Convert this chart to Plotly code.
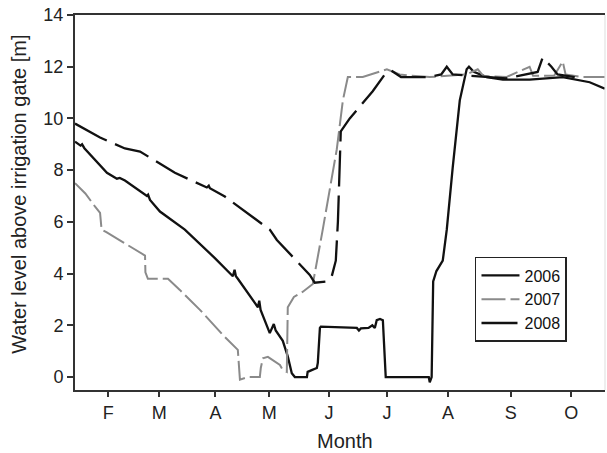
import plotly.graph_objects as go

# x in day-of-year, y water level [m]
day_2006 = [14.6, 17.5, 18.3, 19.5, 31.3, 36.5, 38.0, 40.7, 52.2, 52.8, 53.8, 59.0, 72.0, 87.7,
            97.1, 98.0, 98.7, 99.7, 110.2, 110.9, 111.6, 116.4, 118.5, 119.5, 123.2, 125.8,
            127.9, 129.5, 135.8, 136.2, 138.3, 141.0, 141.5, 142.6, 143.1, 161.9, 163.0, 164.0,
            168.0, 170.0, 171.3, 172.3, 174.0, 175.5, 177.0, 178.1, 199.5, 200.0, 201.0, 201.8,
            203.5, 206.8, 208.9, 212.0, 215.7, 219.3, 220.5, 223.0, 229.8, 238.2, 252.2, 269.5,
            283.6, 291.5]
lvl_2006 = [9.1, 8.95, 9.0, 8.85, 7.9, 7.67, 7.7, 7.6, 7.0, 7.05, 6.85, 6.4, 5.7, 4.6,
            3.9, 4.15, 3.9, 3.8, 2.7, 2.95, 2.6, 1.7, 2.05, 1.8, 1.4, 0.8,
            0.15, 0.0, 0.0, 0.2, 0.27, 0.35, 0.55, 1.9, 1.95, 1.9, 1.8, 1.88,
            1.9, 2.0, 1.9, 2.2, 2.25, 2.2, 0.0, 0.0, 0.0, -0.2, 0.0, 3.7,
            4.1, 4.5, 5.7, 8.1, 10.7, 11.9, 12.0, 11.8, 11.6, 11.5, 11.5, 11.6,
            11.4, 11.15]

day_2007 = [14.6, 20.0, 25.0, 27.7, 28.5, 31.0, 40.0, 50.0, 51.2, 51.4, 52.7, 63.2, 69.4, 79.9,
            87.7, 92.9, 99.7, 100.8, 104.9, 111.2, 111.7, 112.8, 115.4, 121.7, 123.2, 125.3,
            125.8, 129.0, 133.7, 138.9, 144.2, 151.4, 154.6, 157.2, 165.0, 172.0, 177.6, 184.3,
            190.0, 200.0, 210.0, 219.0, 225.1, 228.0, 240.0, 252.2, 254.0, 265.0, 269.5, 271.0,
            280.0, 291.5]
lvl_2007 = [7.5, 7.1, 6.6, 6.35, 5.7, 5.6, 5.2, 4.75, 4.7, 4.05, 3.8, 3.8, 3.37, 2.6,
            1.95, 1.55, 1.05, -0.1, 0.0, 0.0, 0.35, 0.73, 0.78, 0.47, 0.27, 0.2,
            2.7, 3.1, 3.3, 3.6, 5.75, 8.8, 10.7, 11.6, 11.6, 11.75, 11.9, 11.7,
            11.65, 11.6, 11.65, 11.7, 11.9, 11.65, 11.6, 12.0, 11.65, 11.65, 12.2, 11.7,
            11.6, 11.6]

day_2008 = [14.6, 27.7, 40.7, 48.6, 66.8, 83.5, 84.5, 85.1, 92.9, 102.3, 116.4, 120.1, 137.3,
            139.9, 146.3, 148.8, 150.9, 152.0, 153.0, 153.5, 158.2, 165.0, 170.2, 176.5, 180.0,
            185.0, 200.0, 206.0, 208.9, 212.0, 220.0, 240.0, 256.4, 259.0, 263.6, 266.8, 275.8]
lvl_2008 = [9.8, 9.26, 8.84, 8.72, 7.9, 7.33, 7.4, 7.3, 6.98, 6.47, 5.7, 5.3, 3.95,
            3.65, 3.7, 3.9, 4.5, 6.0, 8.0, 9.5, 10.0, 10.6, 11.05, 11.7, 11.85,
            11.6, 11.6, 11.7, 12.0, 11.7, 11.65, 11.55, 11.8, 12.35, 12.0, 11.7, 11.6]

month_ticks = [32, 58.6, 88, 116.1, 147.4, 177.7, 209.6, 242.4, 274]
month_labels = ["F", "M", "A", "M", "J", "J", "A", "S", "O"]
y_ticks = [0, 2, 4, 6, 8, 10, 12, 14]

FONT = "Liberation Sans, Arial, sans-serif"

fig = go.Figure()
fig.add_trace(go.Scatter(x=day_2006, y=lvl_2006, mode="lines", name="2006",
                         line=dict(color="#111111", width=2.3)))
fig.add_trace(go.Scatter(x=day_2007, y=lvl_2007, mode="lines", name="2007",
                         line=dict(color="#8a8a8a", width=2, dash="24px,5px")))
fig.add_trace(go.Scatter(x=day_2008, y=lvl_2008, mode="lines", name="2008",
                         line=dict(color="#111111", width=2.3, dash="36px,9px")))

fig.update_layout(
    width=607, height=453,
    margin=dict(l=75, r=2, t=15, b=63),
    paper_bgcolor="white", plot_bgcolor="white",
    font=dict(family=FONT, color="#222222"),
    showlegend=True,
    legend=dict(x=0.7547, y=0.3547, xanchor="left", yanchor="top",
                bgcolor="white", bordercolor="#222222", borderwidth=1.5,
                font=dict(size=16, family=FONT, color="#111111"),
                itemwidth=38, tracegroupgap=0,
                entrywidth=100, entrywidthmode="pixels"),
    xaxis=dict(range=[14.6, 291.6], tickvals=month_ticks, ticktext=month_labels,
               showgrid=False, zeroline=False, showline=True, linecolor="#333333",
               linewidth=2, mirror=True, ticks="outside", ticklen=5, tickwidth=1.5,
               tickcolor="#333333", tickfont=dict(size=18, family=FONT, color="#222222")),
    yaxis=dict(range=[-0.5, 14], tickvals=y_ticks,
               showgrid=False, zeroline=False, showline=True, linecolor="#333333",
               linewidth=2, ticks="outside", ticklen=6, tickwidth=1.5,
               tickcolor="#333333", tickfont=dict(size=18, family=FONT, color="#222222")),
    annotations=[
        dict(text="Month", xref="paper", yref="paper", x=0.509, y=-0.135,
             xanchor="center", yanchor="middle", showarrow=False,
             font=dict(size=20, family=FONT, color="#222222")),
        dict(text="Water level above irrigation gate [m]", xref="paper", yref="paper",
             x=-0.1057, y=0.523, xanchor="center", yanchor="middle", textangle=-90,
             showarrow=False, font=dict(size=20, family=FONT, color="#222222")),
    ],
    shapes=[dict(type="line", xref="paper", yref="paper", x0=1, x1=1, y0=0, y1=1,
                 line=dict(color="#dddddd", width=1))],
)

fig.write_html("out.html")
